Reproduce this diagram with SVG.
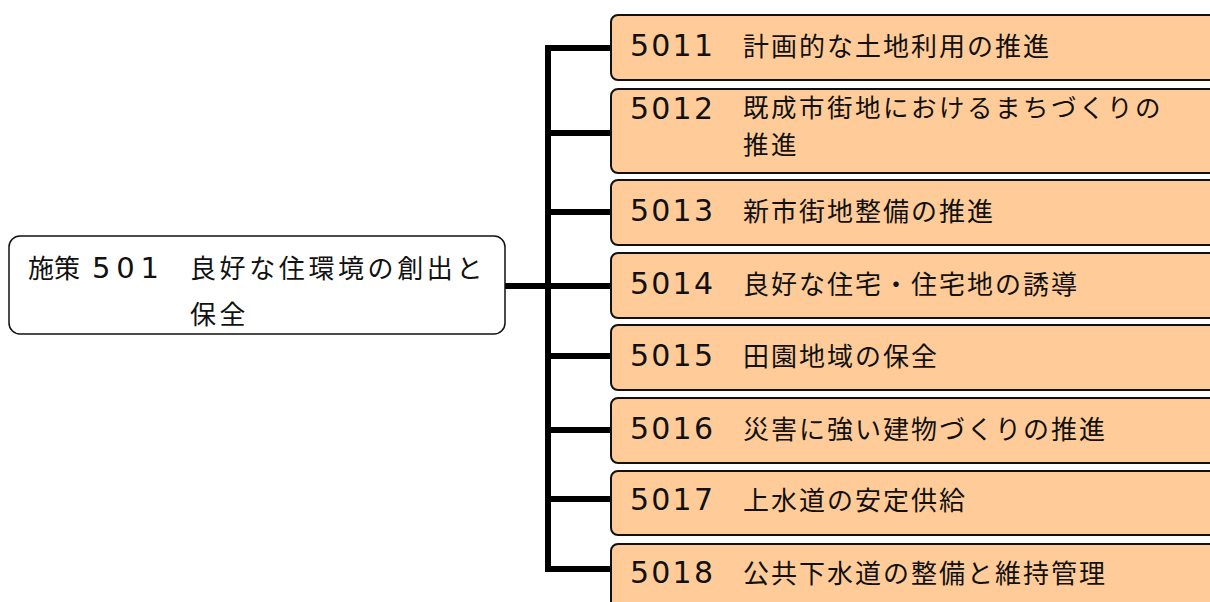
<svg xmlns="http://www.w3.org/2000/svg" width="1210" height="602" viewBox="0 0 1210 602">
<style>
.t{font-family:"Noto Sans CJK JP","Noto Sans",sans-serif;font-size:26px;fill:#111;}
.d{font-family:"DejaVu Sans","Noto Sans",sans-serif;font-size:29px;fill:#111;}
.n{font-family:"DejaVu Sans","Noto Sans",sans-serif;font-size:30px;fill:#111;}
.j{font-family:"Noto Sans CJK JP","Noto Sans",sans-serif;font-size:26px;fill:#111;letter-spacing:2px;}
.box{fill:#FFCC99;stroke:#111;stroke-width:2;}
.conn{stroke:#000;stroke-width:6;fill:none;}
</style>
<rect width="1210" height="602" fill="#fff"/>
<g id="connectors">
<line class="conn" x1="548" y1="45" x2="548" y2="572"/>
<line class="conn" x1="505" y1="286" x2="612" y2="286"/>
<line class="conn" x1="545" y1="48" x2="612" y2="48"/>
<line class="conn" x1="548" y1="133" x2="612" y2="133"/>
<line class="conn" x1="548" y1="212" x2="612" y2="212"/>
<line class="conn" x1="548" y1="356" x2="612" y2="356"/>
<line class="conn" x1="548" y1="430" x2="612" y2="430"/>
<line class="conn" x1="548" y1="499" x2="612" y2="499"/>
<line class="conn" x1="545" y1="569" x2="612" y2="569"/>
</g>
<g id="root">
<rect x="9" y="236" width="496" height="98" rx="11" fill="#fff" stroke="#111" stroke-width="1.5"/>
<text class="t" x="28" y="278">施策</text>
<text class="d" x="92" y="278" textLength="67" lengthAdjust="spacing">501</text>
<text class="t" style="letter-spacing:3.6px"><tspan x="190" y="278">良好な住環境の創出と</tspan><tspan x="190" y="324">保全</tspan></text>
</g>
<g id="n5011">
<rect class="box" x="611" y="15" width="620" height="65" rx="7"/>
<text class="n" x="630" y="56" textLength="83" lengthAdjust="spacing">5011</text><text class="j" x="743" y="56">計画的な土地利用の推進</text>
</g>
<g id="n5012">
<rect class="box" x="611" y="89" width="620" height="84" rx="7"/>
<text class="n" x="630" y="119" textLength="83" lengthAdjust="spacing">5012</text><text class="j" style="font-size:25.5px;letter-spacing:2.5px"><tspan x="743" y="117">既成市街地におけるまちづくりの</tspan><tspan x="743" y="154">推進</tspan></text>
</g>
<g id="n5013">
<rect class="box" x="611" y="180" width="620" height="65" rx="7"/>
<text class="n" x="630" y="221" textLength="83" lengthAdjust="spacing">5013</text><text class="j" x="743" y="221">新市街地整備の推進</text>
</g>
<g id="n5014">
<rect class="box" x="611" y="253" width="620" height="65" rx="7"/>
<text class="n" x="630" y="294" textLength="83" lengthAdjust="spacing">5014</text><text class="j" x="743" y="294">良好な住宅・住宅地の誘導</text>
</g>
<g id="n5015">
<rect class="box" x="611" y="325" width="620" height="65" rx="7"/>
<text class="n" x="630" y="366" textLength="83" lengthAdjust="spacing">5015</text><text class="j" x="743" y="366">田園地域の保全</text>
</g>
<g id="n5016">
<rect class="box" x="611" y="398" width="620" height="65" rx="7"/>
<text class="n" x="630" y="439" textLength="83" lengthAdjust="spacing">5016</text><text class="j" x="743" y="439">災害に強い建物づくりの推進</text>
</g>
<g id="n5017">
<rect class="box" x="611" y="471" width="620" height="64" rx="7"/>
<text class="n" x="630" y="510" textLength="83" lengthAdjust="spacing">5017</text><text class="j" x="743" y="510">上水道の安定供給</text>
</g>
<g id="n5018">
<rect class="box" x="611" y="544" width="620" height="70" rx="7"/>
<text class="n" x="630" y="583" textLength="83" lengthAdjust="spacing">5018</text><text class="j" x="743" y="583">公共下水道の整備と維持管理</text>
</g>
</svg>
